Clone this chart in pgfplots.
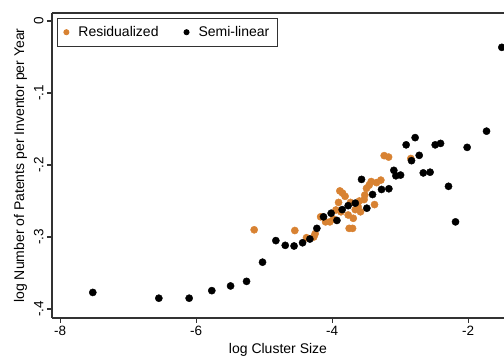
\documentclass[border=0pt]{standalone}
\usepackage{pgfplots}
\pgfplotsset{compat=1.18}
\usepackage{fontspec}
\setmainfont{Liberation Sans}
\definecolor{orng}{RGB}{216,130,50}
\definecolor{framec}{RGB}{50,50,50}
\begin{document}
\begin{tikzpicture}
\begin{axis}[
 scale only axis, width=452pt, height=305pt,
 xmin=-8.12, xmax=-1.473, ymin=-0.4125, ymax=0.0111,
 axis x line*=box, axis y line*=left,
 axis line style={framec, line width=1.2pt, -},
 every tick/.style={framec, line width=1.2pt},
 tick align=outside, major tick length=5pt,
 xtick={-8,-6,-4,-2}, xticklabels={-8,-6,-4,-2},
 ytick={-0.4,-0.3,-0.2,-0.1,0}, yticklabels={-.4,-.3,-.2,-.1,0},
 xtick pos=left, ytick pos=left,
 /pgf/number format/assume math mode=true,
 ticklabel style={font=\fontsize{13.5}{16}\selectfont},
 yticklabel style={rotate=90, anchor=south},
 xlabel={log Cluster Size},
 ylabel={log Number of Patents per Inventor per Year},
 label style={font=\fontsize{14}{16}\selectfont},
 legend style={at={(0,1)}, anchor=north west, xshift=5pt, yshift=-5pt,
   draw=framec, line width=0.8pt, font=\fontsize{14}{16}\selectfont,
   inner xsep=6pt, inner ysep=6pt,
   legend columns=2,
   /tikz/every odd column/.append style={column sep=7pt},
   /tikz/every even column/.append style={column sep=23pt}},
 legend cell align=left,
]
\addlegendimage{legend image code/.code={\fill[orng] (0pt,0pt) circle (2.6pt);}}
\addlegendentry{Residualized}
\addlegendimage{legend image code/.code={\fill[black] (0pt,0pt) circle (2.6pt);}}
\addlegendentry{Semi-linear}
\addplot[forget plot, only marks, mark=*, mark size=3.6pt, color=orng] coordinates {
(-5.147,-0.290) (-4.549,-0.291) (-4.377,-0.301) (-4.25,-0.2954) (-4.27,-0.300)
(-4.17,-0.272) (-4.097,-0.279) (-4.034,-0.279) (-3.98,-0.275) (-3.945,-0.2625)
(-3.906,-0.252) (-3.887,-0.236) (-3.848,-0.239) (-3.81,-0.2435) (-3.765,-0.2694)
(-3.75,-0.288) (-3.70,-0.288) (-3.69,-0.274) (-3.73,-0.252) (-3.618,-0.258)
(-3.583,-0.265) (-3.53,-0.248) (-3.52,-0.2417) (-3.495,-0.2324) (-3.456,-0.228)
(-3.426,-0.223) (-3.377,-0.255) (-3.348,-0.2245) (-3.284,-0.221) (-3.235,-0.187)
(-3.17,-0.189) (-2.843,-0.191) (-3.60,-0.250) (-3.66,-0.262) (-3.87,-0.265)
};
\addplot[forget plot, only marks, mark=*, mark size=3.6pt, color=black] coordinates {
(-7.52,-0.377) (-6.549,-0.385) (-6.103,-0.385) (-5.77,-0.3745) (-5.494,-0.368)
(-5.259,-0.3616) (-5.024,-0.335) (-4.828,-0.305) (-4.69,-0.3116) (-4.56,-0.3125)
(-4.435,-0.308) (-4.328,-0.3028) (-4.225,-0.288) (-4.127,-0.272) (-4.015,-0.267)
(-3.93,-0.277) (-3.853,-0.262) (-3.765,-0.2565) (-3.66,-0.253) (-3.568,-0.220)
(-3.49,-0.260) (-3.406,-0.241) (-3.274,-0.234) (-3.166,-0.233) (-3.093,-0.2074)
(-3.063,-0.215) (-2.994,-0.214) (-2.912,-0.172) (-2.833,-0.194) (-2.78,-0.162)
(-2.72,-0.1866) (-2.66,-0.211) (-2.56,-0.210) (-2.485,-0.172) (-2.406,-0.170)
(-2.289,-0.2296) (-2.186,-0.279) (-2.015,-0.1755) (-1.73,-0.153) (-1.505,-0.0366)
};
\coordinate (bl) at (rel axis cs:0,0);
\coordinate (tr) at (rel axis cs:1,1);
\end{axis}
\pgfresetboundingbox
\useasboundingbox ([xshift=-52pt,yshift=-38pt]bl) rectangle ([yshift=13pt]tr);
\end{tikzpicture}
\end{document}
